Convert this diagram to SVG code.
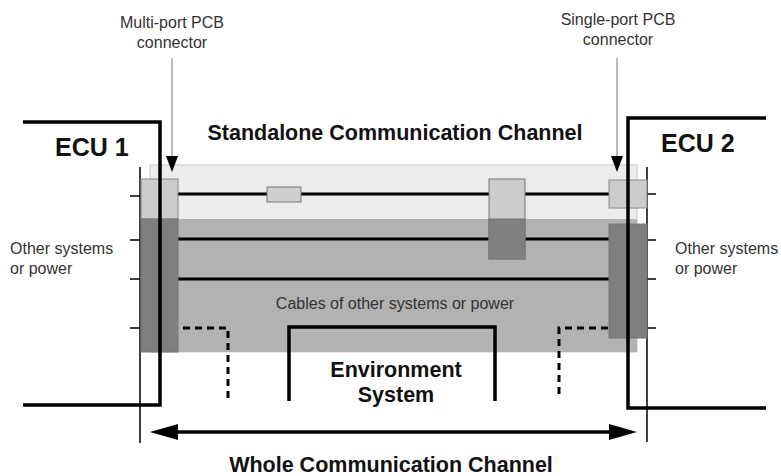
<svg xmlns="http://www.w3.org/2000/svg" width="781" height="476" viewBox="0 0 781 476">
<style>
.t{font-family:"Liberation Sans",Arial,sans-serif;fill:#222}
.b{font-weight:bold;fill:#111}
.s{font-size:16px;fill:#333}
.k{stroke:#000;fill:none}
</style>
<rect width="781" height="476" fill="#fff"/>
<g id="channel">
<rect x="150" y="165" width="487" height="187" fill="#ececec" stroke="#c8c8c8"/>
<rect x="150" y="219" width="487" height="133" fill="#b2b2b2"/>
<text class="t s" x="395" y="309" text-anchor="middle">Cables of other systems or power</text>
</g>
<g id="wires" class="k" stroke-width="3">
<line x1="178" y1="194" x2="609" y2="194"/>
<line x1="178" y1="239" x2="609" y2="239"/>
<line x1="178" y1="279" x2="609" y2="279"/>
</g>
<g id="splice"><rect x="267" y="187" width="34" height="15" fill="#cfcfcf" stroke="#777"/></g>
<g id="inline-connector">
<rect x="489" y="179" width="36" height="80" fill="#cccccc" stroke="#777"/>
<rect x="489" y="219" width="36" height="40" fill="#808080" stroke="#777"/>
</g>
<g id="ecu1">
<line x1="140" y1="167" x2="140" y2="443" stroke="#000" stroke-width="1.5"/>
<g stroke="#000" stroke-width="1.5"><line x1="130" y1="196" x2="140" y2="196"/><line x1="130" y1="240" x2="140" y2="240"/><line x1="130" y1="279" x2="140" y2="279"/><line x1="130" y1="328" x2="140" y2="328"/></g>
<rect x="141" y="179" width="37" height="40" fill="#cccccc" stroke="#888"/>
<rect x="141" y="219" width="37" height="133" fill="#7f7f7f" stroke="#777"/>
<path class="k" d="M23,122 H160 V405 H23" stroke-width="3.5"/>
<text class="t b" x="55" y="156" font-size="25">ECU 1</text>
<text class="t s" x="10" y="254">Other systems</text>
<text class="t s" x="10" y="274">or power</text>
</g>
<g id="ecu2">
<line x1="647" y1="167" x2="647" y2="442" stroke="#000" stroke-width="1.5"/>
<g stroke="#000" stroke-width="1.5"><line x1="647" y1="194" x2="656" y2="194"/><line x1="647" y1="240" x2="656" y2="240"/><line x1="647" y1="279" x2="656" y2="279"/><line x1="647" y1="328" x2="656" y2="328"/></g>
<rect x="609" y="180" width="38" height="28" fill="#cccccc" stroke="#888"/>
<rect x="609" y="224" width="38" height="114" fill="#7f7f7f" stroke="#777"/>
<path class="k" d="M766,118 H628 V408 H766" stroke-width="3.5"/>
<text class="t b" x="661" y="152" font-size="25">ECU 2</text>
<text class="t s" x="675" y="254">Other systems</text>
<text class="t s" x="675" y="274">or power</text>
</g>
<g id="environment">
<path class="k" d="M289,401 V327 H495 V401" stroke-width="3.5"/>
<text class="t b" x="396" y="377" font-size="21.5" text-anchor="middle">Environment</text>
<text class="t b" x="396" y="402" font-size="21.5" text-anchor="middle">System</text>
</g>
<g id="connectors">
<path class="k" d="M183,328 H228 V399" stroke-width="3" stroke-dasharray="7,5"/>
<path class="k" d="M608,328 H559 V399" stroke-width="3" stroke-dasharray="7,5"/>
<line x1="172" y1="58" x2="172" y2="156" stroke="#bbb" stroke-width="2"/>
<path d="M166,156 L178,156 L172,172 Z" fill="#000"/>
<line x1="617" y1="58" x2="617" y2="156" stroke="#bbb" stroke-width="2"/>
<path d="M611,156 L623,156 L617,172 Z" fill="#000"/>
<line x1="175" y1="432" x2="612" y2="432" stroke="#000" stroke-width="3.5"/>
<path d="M150,432 L178,424 L178,440 Z" fill="#000"/>
<path d="M637,432 L609,424 L609,440 Z" fill="#000"/>
</g>
<g id="labels">
<text class="t b" x="395" y="140" font-size="21.5" text-anchor="middle">Standalone Communication Channel</text>
<text class="t b" x="391" y="472" font-size="21.5" text-anchor="middle">Whole Communication Channel</text>
<text class="t s" x="172" y="28" text-anchor="middle">Multi-port PCB</text>
<text class="t s" x="172" y="48" text-anchor="middle">connector</text>
<text class="t s" x="618" y="25" text-anchor="middle">Single-port PCB</text>
<text class="t s" x="618" y="45" text-anchor="middle">connector</text>
</g>
</svg>
